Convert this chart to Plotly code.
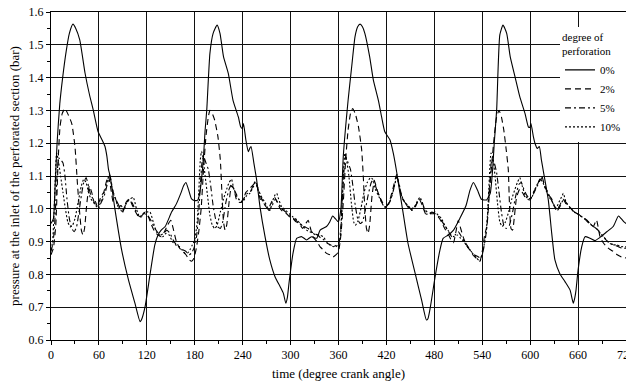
import plotly.graph_objects as go

# ---- data (degree crank angle, pressure in bar) ----
x_0pct = [0, 3, 5, 7.6, 11, 14.6, 19, 23, 27.5, 31, 36, 42.6, 48, 53, 59, 64, 67.6, 70, 72, 74, 80, 88.5, 97, 105, 111.5, 113, 117.7, 124, 130, 134, 138, 143, 151, 157, 163, 166, 169, 172, 176, 180, 184, 187, 190.7, 193, 195, 199, 203, 208, 211.6, 216, 222, 228, 234.6, 237.5, 239.5, 241, 244, 247, 249, 250.5, 254, 257.5, 261.7, 268, 274, 280.5, 286.8, 291, 294, 296, 298, 303, 307.6, 314, 320, 326, 332.7, 337, 345, 349, 352.7, 356, 359.8, 363, 366, 372, 376.5, 380.7, 384, 387, 390, 393, 399, 403.6, 410, 414, 418, 424.5, 428.6, 433, 435, 441, 447, 456, 464, 470, 472, 475, 481, 487, 491, 497.5, 504, 512, 519.7, 524.7, 529, 534, 539, 545.5, 550, 553, 555, 558, 562, 566, 570.6, 575, 581, 587, 593.6, 597.7, 599.5, 601, 604, 606, 609, 611.5, 614, 616.5, 622.7, 627, 631, 637, 643.6, 650, 654, 656, 657.4, 660, 664.5, 668.7, 675, 681, 687.5, 696, 704, 710.5, 714, 717.5, 720]
y_0pct = [0.955, 0.97, 1.06, 1.20, 1.32, 1.40, 1.48, 1.535, 1.563, 1.55, 1.515, 1.414, 1.35, 1.30, 1.235, 1.21, 1.19, 1.16, 1.12, 1.10, 1.00, 0.874, 0.783, 0.713, 0.656, 0.66, 0.70, 0.80, 0.89, 0.92, 0.935, 0.946, 0.99, 1.015, 1.05, 1.07, 1.08, 1.06, 1.03, 1.025, 1.027, 1.06, 1.15, 1.24, 1.30, 1.474, 1.535, 1.56, 1.535, 1.464, 1.413, 1.33, 1.28, 1.25, 1.245, 1.26, 1.21, 1.174, 1.185, 1.19, 1.14, 1.088, 1.006, 0.915, 0.844, 0.793, 0.763, 0.742, 0.712, 0.73, 0.773, 0.864, 0.91, 0.915, 0.905, 0.915, 0.91, 0.935, 0.946, 0.96, 0.978, 0.97, 0.96, 1.0, 1.16, 1.33, 1.433, 1.525, 1.555, 1.563, 1.555, 1.535, 1.464, 1.393, 1.33, 1.28, 1.235, 1.21, 1.17, 1.11, 1.077, 0.986, 0.895, 0.803, 0.722, 0.661, 0.665, 0.70, 0.793, 0.874, 0.91, 0.92, 0.935, 0.971, 1.01, 1.057, 1.08, 1.057, 1.029, 1.027, 1.047, 1.12, 1.20, 1.30, 1.53, 1.56, 1.535, 1.464, 1.403, 1.342, 1.29, 1.25, 1.248, 1.26, 1.22, 1.20, 1.184, 1.19, 1.15, 1.115, 1.027, 0.925, 0.844, 0.803, 0.778, 0.752, 0.712, 0.73, 0.752, 0.813, 0.884, 0.915, 0.91, 0.903, 0.913, 0.93, 0.946, 0.978, 0.97, 0.96, 0.955]

x_2pct = [0, 3, 6, 9, 11.3, 14, 17.5, 21.7, 26, 30, 33, 35.5, 38, 40, 42, 45, 48, 51, 54, 57, 60, 63, 66, 69, 72, 75, 78, 81, 84, 87, 90, 94, 98, 102, 106, 110, 114, 118, 122, 126, 130, 134, 138, 142, 146, 150, 153, 157, 161, 165, 169, 173, 176, 179, 182, 185, 188, 191, 194, 197, 199, 202, 205, 209, 212, 214, 216, 218, 220, 223, 226, 229, 232, 235, 238, 241, 244, 248, 252, 256, 259, 262, 265, 268, 272, 276, 280, 283, 287, 291, 295, 299, 303, 307, 311, 315, 319, 322, 325, 328, 333, 337, 341, 345, 349, 353, 357, 360, 363, 366, 369, 372, 375, 377.7, 381, 385, 389, 391, 393, 395, 397, 399, 402, 405, 408, 411, 414, 418, 421, 424, 428, 431, 433, 436, 439, 443, 447, 450, 453, 457, 461, 465, 469, 473, 477, 481, 485, 489, 493, 497, 501, 504, 507, 510, 513, 516, 520, 524.6, 528, 531, 534, 537, 540, 543, 546, 549, 552, 555, 558, 561, 564, 567, 570, 572.6, 574, 576, 578, 580, 583, 587, 591, 595, 600, 604, 608, 611, 614.5, 617, 620.6, 624, 627, 630, 633, 637, 641, 645, 650, 655, 660, 665, 670.8, 675, 679, 683, 687.5, 692, 696, 700, 704, 709, 714.6, 720]
y_2pct = [0.86, 0.88, 0.95, 1.15, 1.25, 1.29, 1.306, 1.286, 1.26, 1.19, 1.08, 1.00, 0.935, 0.92, 0.94, 1.02, 1.07, 1.05, 1.02, 1.01, 1.02, 1.04, 1.05, 1.08, 1.10, 1.06, 1.02, 1.03, 1.00, 1.01, 0.99, 1.02, 1.03, 1.01, 0.99, 0.975, 0.98, 0.99, 0.975, 0.95, 0.93, 0.92, 0.915, 0.93, 0.95, 0.965, 0.94, 0.90, 0.88, 0.87, 0.86, 0.845, 0.84, 0.85, 0.88, 0.93, 1.00, 1.12, 1.22, 1.28, 1.30, 1.29, 1.27, 1.22, 1.15, 1.05, 0.96, 0.935, 0.95, 1.02, 1.07, 1.06, 1.03, 1.02, 1.02, 1.03, 1.05, 1.06, 1.07, 1.08, 1.06, 1.03, 1.025, 1.01, 1.00, 1.02, 1.035, 1.02, 1.00, 0.99, 0.985, 0.975, 0.97, 0.96, 0.955, 0.94, 0.955, 0.965, 0.94, 0.915, 0.90, 0.884, 0.875, 0.864, 0.86, 0.853, 0.86, 0.87, 0.92, 1.02, 1.15, 1.24, 1.29, 1.306, 1.29, 1.25, 1.18, 1.10, 1.00, 0.94, 0.925, 0.95, 1.04, 1.085, 1.06, 1.04, 1.02, 1.005, 1.01, 1.025, 1.06, 1.09, 1.105, 1.07, 1.035, 1.02, 1.01, 1.00, 0.995, 1.01, 1.03, 1.01, 0.985, 0.985, 0.99, 0.985, 0.975, 0.96, 0.94, 0.925, 0.905, 0.897, 0.93, 0.965, 0.94, 0.915, 0.89, 0.874, 0.86, 0.853, 0.845, 0.84, 0.87, 0.92, 0.95, 1.05, 1.14, 1.22, 1.28, 1.30, 1.28, 1.24, 1.18, 1.12, 1.02, 0.94, 0.935, 0.97, 1.035, 1.06, 1.047, 1.03, 1.027, 1.05, 1.067, 1.085, 1.10, 1.08, 1.057, 1.04, 1.03, 1.01, 0.995, 1.01, 1.03, 1.015, 1.004, 0.99, 0.984, 0.975, 0.966, 0.955, 0.946, 0.966, 0.915, 0.895, 0.884, 0.876, 0.87, 0.86, 0.853, 0.85]

x_5pct = [0, 2, 4, 6, 8, 10, 12, 15, 17.5, 20, 23, 26, 29, 32, 35, 38, 41, 44, 47, 50, 53, 56, 59, 62, 65, 68, 71, 74, 77, 80, 83, 86, 89, 93, 97, 101, 105, 109, 113, 117, 121, 125, 129, 133, 137, 141, 145, 149, 153, 157, 161, 165, 169, 173, 176, 179, 182, 185, 187, 189, 191, 194, 197, 200, 203, 206, 209, 212, 215, 219, 223, 226, 229, 232, 235, 238, 241, 245, 249, 253, 256, 259, 262, 265, 269, 273, 277, 281, 285, 289, 294, 299, 304, 309, 314, 318, 322, 326, 330, 334, 338, 342, 346, 350, 354, 358, 361, 363, 365, 367, 369, 372, 375, 378, 381, 384, 387, 390, 393, 397, 401, 404, 407, 411, 415, 419, 423, 427, 430, 433, 436, 439, 443, 447, 451, 455, 459, 463, 467, 471, 476, 481, 486, 490, 494, 498, 502, 506, 510, 514, 518, 522, 526, 530, 534, 538, 541, 544, 546, 548, 550, 552, 555, 558, 561, 564, 567, 570, 574, 578, 582, 586, 589, 592, 596, 600, 604, 608, 612, 615, 618, 622, 626, 630, 634, 638, 642, 646, 650, 656, 662, 668, 674, 680, 685, 690, 695, 700, 705, 710, 715, 720]
y_5pct = [0.87, 0.89, 0.93, 1.02, 1.12, 1.155, 1.15, 1.14, 1.10, 1.03, 0.97, 0.94, 0.93, 0.945, 0.99, 1.04, 1.08, 1.095, 1.07, 1.04, 1.03, 1.02, 1.0, 1.015, 1.03, 1.05, 1.08, 1.10, 1.06, 1.035, 1.02, 1.005, 0.99, 1.01, 1.025, 1.02, 1.0, 0.98, 0.975, 0.985, 0.98, 0.965, 0.945, 0.93, 0.92, 0.925, 0.935, 0.925, 0.905, 0.89, 0.884, 0.875, 0.87, 0.86, 0.865, 0.88, 0.91, 0.99, 1.07, 1.14, 1.16, 1.14, 1.12, 1.07, 1.01, 0.97, 0.945, 0.94, 0.96, 1.02, 1.06, 1.075, 1.06, 1.045, 1.03, 1.02, 1.03, 1.045, 1.05, 1.07, 1.085, 1.065, 1.04, 1.025, 1.01, 0.995, 1.01, 1.03, 1.015, 1.0, 0.99, 0.98, 0.97, 0.96, 0.95, 0.945, 0.94, 0.93, 0.925, 0.92, 0.91, 0.905, 0.895, 0.89, 0.885, 0.89, 0.90, 0.95, 1.04, 1.12, 1.16, 1.14, 1.12, 1.07, 1.01, 0.97, 0.955, 0.96, 0.99, 1.04, 1.08, 1.09, 1.065, 1.04, 1.02, 1.005, 1.015, 1.04, 1.07, 1.095, 1.075, 1.04, 1.02, 1.005, 0.995, 1.005, 1.02, 1.03, 1.005, 0.99, 0.985, 0.985, 0.975, 0.96, 0.945, 0.93, 0.915, 0.92, 0.93, 0.915, 0.90, 0.885, 0.87, 0.86, 0.855, 0.85, 0.87, 0.91, 0.95, 1.03, 1.10, 1.15, 1.14, 1.11, 1.05, 0.99, 0.95, 0.94, 0.95, 0.99, 1.04, 1.075, 1.08, 1.06, 1.04, 1.03, 1.045, 1.065, 1.085, 1.095, 1.07, 1.05, 1.03, 1.01, 0.995, 1.01, 1.03, 1.015, 1.0, 0.99, 0.98, 0.97, 0.955, 0.945, 0.935, 0.92, 0.905, 0.895, 0.89, 0.885, 0.88, 0.88]

x_10pct = [0, 2, 4, 5.5, 7, 9, 12, 15, 18, 21, 24, 27, 30, 34, 38, 41, 44, 47, 50, 53, 56, 59, 62, 65, 68, 71, 73, 76, 79, 82, 85, 88, 91, 95, 99, 103, 107, 111, 115, 119, 124, 128, 132, 136, 140, 144, 148, 152, 156, 160, 164, 168, 171, 174, 177, 180, 183, 185, 187, 188.5, 190, 193, 196, 199, 202, 205, 208, 212, 216, 220, 223, 226, 229, 232, 235, 238, 241, 245, 249, 253, 256, 259, 262, 265, 268, 271, 274, 277, 280, 282.6, 285, 289, 294, 299, 303, 308, 312, 316, 320, 324, 328, 332, 336, 341, 345, 349, 353, 357, 360, 362, 364, 366, 368, 370, 373, 376, 379, 381, 384, 388, 392, 396, 400, 403, 406, 410, 414, 418, 421, 424, 428, 431, 433, 436, 439, 443, 447, 451, 455, 459, 462, 466, 470, 475, 481, 485, 489, 493, 497, 501, 505, 509, 513, 517, 521, 525, 529, 533, 537, 540, 543, 545, 547, 549, 551, 553, 556, 559, 562, 565, 569, 573, 577, 581, 584, 587, 590, 594, 598, 602, 606, 610, 613, 616, 620, 624, 628, 632, 636, 640, 641.5, 645, 650, 655, 660, 665, 670, 675, 679, 683, 688, 692, 697, 703, 708, 714, 720]
y_10pct = [0.875, 0.90, 1.0, 1.10, 1.17, 1.15, 1.10, 1.05, 1.00, 0.96, 0.945, 0.95, 0.97, 1.02, 1.07, 1.09, 1.08, 1.05, 1.03, 1.02, 1.01, 1.0, 1.02, 1.04, 1.06, 1.09, 1.105, 1.07, 1.04, 1.025, 1.00, 1.01, 0.995, 1.02, 1.03, 1.035, 1.0, 0.975, 0.985, 0.99, 0.99, 0.96, 0.93, 0.92, 0.915, 0.925, 0.92, 0.90, 0.89, 0.885, 0.875, 0.864, 0.865, 0.875, 0.89, 0.905, 0.96, 1.05, 1.15, 1.175, 1.16, 1.10, 1.04, 0.98, 0.95, 0.94, 0.95, 0.99, 1.03, 1.06, 1.08, 1.09, 1.06, 1.04, 1.03, 1.02, 1.025, 1.04, 1.047, 1.065, 1.08, 1.06, 1.045, 1.03, 1.02, 1.005, 0.995, 1.02, 1.04, 1.047, 1.03, 1.005, 0.995, 0.984, 0.975, 0.966, 0.955, 0.946, 0.935, 0.93, 0.925, 0.92, 0.92, 0.915, 0.90, 0.89, 0.885, 0.884, 0.895, 0.905, 0.98, 1.10, 1.17, 1.15, 1.10, 1.02, 0.96, 0.95, 0.96, 1.00, 1.05, 1.08, 1.095, 1.09, 1.06, 1.04, 1.02, 1.004, 1.01, 1.02, 1.05, 1.08, 1.10, 1.07, 1.04, 1.02, 1.01, 1.00, 1.005, 1.025, 1.035, 1.01, 0.984, 0.985, 0.99, 0.98, 0.97, 0.95, 0.935, 0.92, 0.915, 0.92, 0.91, 0.90, 0.885, 0.874, 0.86, 0.85, 0.84, 0.86, 0.90, 0.93, 1.00, 1.10, 1.17, 1.16, 1.10, 1.02, 0.96, 0.946, 0.96, 0.99, 1.03, 1.06, 1.08, 1.095, 1.07, 1.04, 1.03, 1.035, 1.06, 1.08, 1.09, 1.08, 1.055, 1.035, 1.02, 1.0, 1.02, 1.04, 1.047, 1.02, 1.004, 0.99, 0.984, 0.975, 0.966, 0.955, 0.946, 0.94, 0.925, 0.915, 0.90, 0.89, 0.89, 0.885, 0.884]

series_names = ["0%", "2%", "5%", "10%"]
x_ticks = [0, 60, 120, 180, 240, 300, 360, 420, 480, 540, 600, 660, 720]
y_ticks = [0.6, 0.7, 0.8, 0.9, 1.0, 1.1, 1.2, 1.3, 1.4, 1.5, 1.6]

FONT = "Liberation Serif, Times New Roman, Times, serif"
dashes = ["solid", "6px,4px", "6px,3px,2px,3px", "2px,2px"]
xs = [x_0pct, x_2pct, x_5pct, x_10pct]
ys = [y_0pct, y_2pct, y_5pct, y_10pct]

fig = go.Figure()
for name, x, y, d in zip(series_names, xs, ys, dashes):
    fig.add_trace(go.Scatter(
        x=x, y=y, mode="lines", name=name,
        line=dict(color="black", width=1.1, dash=d, shape="spline", smoothing=0.5),
    ))

fig.update_layout(
    width=626, height=381,
    margin=dict(l=51, r=0, t=12, b=41, autoexpand=False),
    paper_bgcolor="white", plot_bgcolor="white",
    font=dict(family=FONT, size=12, color="black"),
    legend=dict(
        x=1, xanchor="right", y=0.955, yanchor="top",
        bgcolor="white", borderwidth=0,
        font=dict(family=FONT, size=11),
        title=dict(text="degree of<br>perforation", font=dict(family=FONT, size=11)),
        tracegroupgap=0, itemwidth=30,
    ),
)
fig.update_xaxes(
    range=[0, 720], tickvals=x_ticks, ticktext=[str(v) for v in x_ticks],
    showgrid=True, gridcolor="#111", gridwidth=1,
    showline=True, linecolor="black", linewidth=1, mirror=True,
    ticks="outside", ticklen=4, tickcolor="black",
    minor=dict(dtick=30, tick0=0, ticks="outside", ticklen=3, tickcolor="black", showgrid=False),
    tickfont=dict(family=FONT, size=12), ticklabeloverflow="allow", automargin=False,
    title=dict(text="time (degree crank angle)", font=dict(family=FONT, size=13), standoff=8),
    zeroline=False,
)
fig.update_yaxes(
    range=[0.6, 1.6], tickvals=y_ticks, ticktext=[f"{v:.1f}" for v in y_ticks],
    showgrid=True, gridcolor="#111", gridwidth=1,
    showline=True, linecolor="black", linewidth=1, mirror=True,
    ticks="outside", ticklen=4, tickcolor="black",
    minor=dict(dtick=0.05, tick0=0.6, ticks="outside", ticklen=3, tickcolor="black", showgrid=False),
    tickfont=dict(family=FONT, size=12), automargin=False,
    title=dict(text="pressure at the inlet of the perforated section (bar)", font=dict(family=FONT, size=13), standoff=6),
    zeroline=False,
)

fig.write_html(
    "out.html",
    config={"displayModeBar": False},
    post_script="document.body.style.margin='0';document.body.style.overflow='hidden';",
)
